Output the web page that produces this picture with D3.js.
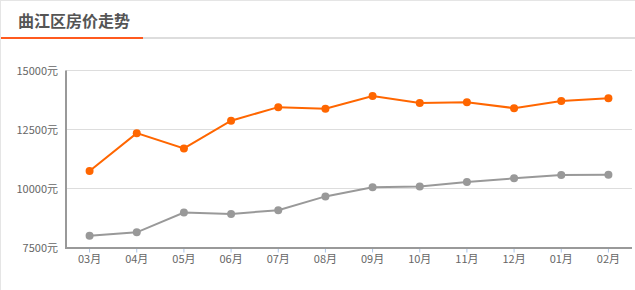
<!DOCTYPE html>
<html>
<head>
<meta charset="utf-8">
<script src="https://cdn.jsdelivr.net/npm/d3@7"></script>
<style>
  html, body { margin: 0; padding: 0; background: #fff; }
  svg { display: block; font-family: "Noto Sans CJK SC", "Noto Sans", sans-serif; }
</style>
</head>
<body>
<svg width="635" height="290"></svg>
<script>
// chart data
var months = ["03月", "04月", "05月", "06月", "07月", "08月", "09月", "10月", "11月", "12月", "01月", "02月"];
var districtPrice = [10740, 12345, 11700, 12873, 13447, 13376, 13920, 13627, 13656, 13405, 13711, 13824];
var cityPrice = [7995, 8141, 8978, 8924, 9079, 9665, 10054, 10084, 10276, 10431, 10570, 10586];
var yTicks = [7500, 10000, 12500, 15000];
var title = "曲江区房价走势";

var svg = d3.select("svg"),
    margin = {top: 70.5, right: 3, bottom: 42.5, left: 66},
    width = +svg.attr("width") - margin.left - margin.right,
    height = +svg.attr("height") - margin.top - margin.bottom;

// frame lines
svg.append("line").attr("x1", 0).attr("x2", 635).attr("y1", 0.5).attr("y2", 0.5)
    .attr("stroke", "#e5e5e5");
svg.append("line").attr("x1", 0.5).attr("x2", 0.5).attr("y1", 0).attr("y2", 290)
    .attr("stroke", "#e5e5e5");

// title + underline
svg.append("text")
    .attr("x", 18)
    .attr("y", 27)
    .attr("fill", "#555")
    .style("font-size", "16px")
    .style("font-weight", "bold")
    .text(title);
svg.append("rect").attr("x", 143).attr("y", 37).attr("width", 492).attr("height", 2).attr("fill", "#ddd");
svg.append("rect").attr("x", 1).attr("y", 37).attr("width", 142).attr("height", 2).attr("fill", "#ff5a1f");

var g = svg.append("g").attr("transform", "translate(" + margin.left + "," + margin.top + ")");

var x = d3.scaleBand().domain(months).range([0, width]);
var y = d3.scaleLinear().domain([7500, 15000]).range([height, 0]);

// gridlines
g.append("g")
    .selectAll("line")
    .data(yTicks.slice(1))
    .enter().append("line")
    .attr("x1", 0)
    .attr("x2", width)
    .attr("y1", function(d) { return y(d); })
    .attr("y2", function(d) { return y(d); })
    .attr("stroke", "#ddd");

// y labels
var yAxis = g.append("g")
    .call(d3.axisLeft(y).tickValues(yTicks).tickSize(0).tickPadding(8)
        .tickFormat(function(d) { return d + "元"; }));
yAxis.select(".domain").remove();
yAxis.selectAll("text")
    .attr("fill", "#666")
    .style("font-size", "11px")
    .style("font-family", "\"Noto Sans CJK SC\", sans-serif");

// x axis
var xAxis = g.append("g")
    .attr("transform", "translate(0," + height + ")")
    .call(d3.axisBottom(x).tickSizeInner(5).tickSizeOuter(0).tickPadding(3));
xAxis.select(".domain").remove();
xAxis.selectAll(".tick line").attr("stroke", "#aac4e8");
xAxis.selectAll("text")
    .attr("fill", "#666")
    .style("font-size", "11px")
    .style("font-family", "\"Noto Sans CJK SC\", sans-serif");

// axis lines
g.append("line").attr("x1", 0).attr("x2", width).attr("y1", height + 0.5).attr("y2", height + 0.5)
    .attr("stroke", "#999").attr("stroke-width", 2);
g.append("line").attr("x1", 0).attr("x2", 0).attr("y1", 0).attr("y2", height + 1.5)
    .attr("stroke", "#999").attr("stroke-width", 2);

var cx = function(d, i) { return x(months[i]) + x.bandwidth() / 2; };

function drawSeries(values, color) {
    var line = d3.line()
        .x(cx)
        .y(function(d) { return y(d); });
    g.append("path")
        .datum(values)
        .attr("fill", "none")
        .attr("stroke", color)
        .attr("stroke-width", 2)
        .attr("d", line);
    g.append("g")
        .selectAll("circle")
        .data(values)
        .enter().append("circle")
        .attr("cx", cx)
        .attr("cy", function(d) { return y(d); })
        .attr("r", 4)
        .attr("fill", color);
}

drawSeries(cityPrice, "#999");
drawSeries(districtPrice, "#ff6600");
</script>
</body>
</html>
